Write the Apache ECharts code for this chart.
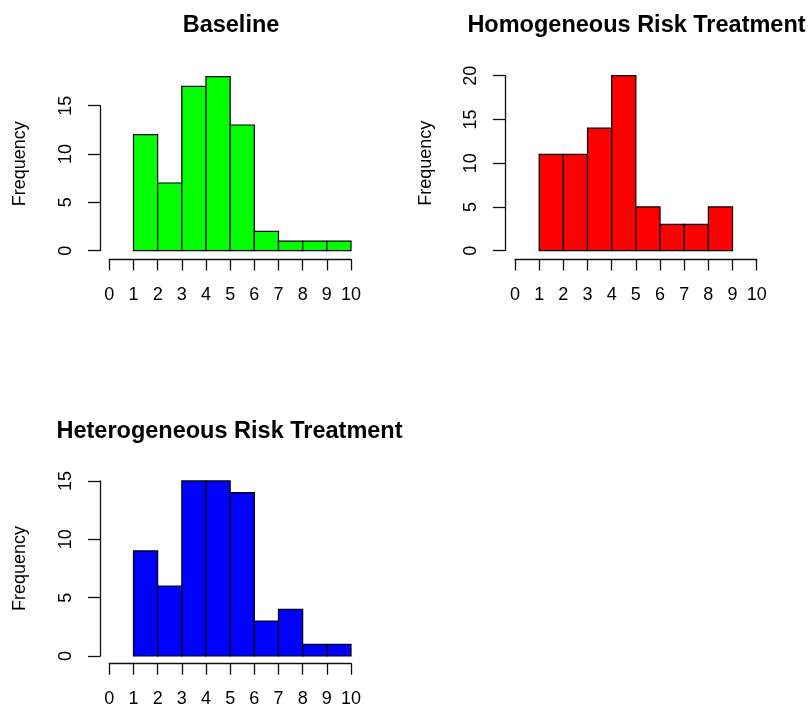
<!DOCTYPE html>
<html><head><meta charset="utf-8">
<script src="https://cdn.jsdelivr.net/npm/echarts@6/dist/echarts.min.js"></script>
<style>html,body{margin:0;padding:0;background:#fff}#c{width:809px;height:708px}</style>
</head><body><div id="c"></div>
<script>
// ---- data ----
const titles = ['Baseline', 'Homogeneous Risk Treatment', 'Heterogeneous Risk Treatment'];
const binWidth = 1;
const baselineStarts = [1, 2, 3, 4, 5, 6, 7, 8, 9];
const baselineCounts = [12, 7, 17, 18, 13, 2, 1, 1, 1];
const homogeneousStarts = [1, 2, 3, 4, 5, 6, 7, 8];
const homogeneousCounts = [11, 11, 14, 20, 5, 3, 3, 5];
const heterogeneousStarts = [1, 2, 3, 4, 5, 6, 7, 8, 9];
const heterogeneousCounts = [9, 6, 15, 15, 14, 3, 4, 1, 1];
const xMin = 0, xMax = 10, xStep = 1;
const yStep = 5;
const yTickMax = [15, 20, 15];
const yName = 'Frequency';

// ---- layout / style ----
const FONT = "'Liberation Sans', Arial, sans-serif";
const panels = [
  {starts: baselineStarts, counts: baselineCounts, color: '#00ff00', x0: 109.3, xUnit: 24.17, yZero: 250.7, yUnit: 9.67, axisX: 100, axisY: 259, titleX: 226, titleY: 9},
  {starts: homogeneousStarts, counts: homogeneousCounts, color: '#ff0000', x0: 515, xUnit: 24.17, yZero: 250.7, yUnit: 8.75, axisX: 505, axisY: 259, titleX: 631.5, titleY: 9},
  {starts: heterogeneousStarts, counts: heterogeneousCounts, color: '#0000ff', x0: 109.3, xUnit: 24.17, yZero: 656, yUnit: 11.67, axisX: 100, axisY: 663.3, titleX: 224.5, titleY: 415}
];

const grid = [], xAxis = [], yAxis = [], series = [], title = [];
const AX = '#111';
panels.forEach((p, i) => {
  const dataMax = Math.max(yTickMax[i], ...p.counts);
  const gA = grid.length;
  grid.push({left: p.x0, width: (xMax - xMin) * p.xUnit, top: p.yZero - dataMax * p.yUnit, height: dataMax * p.yUnit, outerBoundsMode: 'none', containLabel: false});
  xAxis.push({gridIndex: gA, type: 'value', min: xMin, max: xMax, interval: xStep, offset: p.axisY - p.yZero,
    axisLine: {show: true, onZero: false, lineStyle: {color: AX, width: 1.3}},
    axisTick: {show: true, length: 11.5, lineStyle: {color: AX, width: 1.3}},
    axisLabel: {show: true, fontFamily: FONT, fontSize: 18, color: '#000', margin: 27, showMinLabel: true, showMaxLabel: true, hideOverlap: false},
    splitLine: {show: false}});
  yAxis.push({gridIndex: gA, type: 'value', min: 0, max: dataMax, name: yName, nameLocation: 'middle', nameRotate: 90, nameGap: 80,
    nameTextStyle: {fontFamily: FONT, fontSize: 18, color: '#000'},
    axisLine: {show: false, onZero: false}, axisTick: {show: false}, axisLabel: {show: false}, splitLine: {show: false}});
  const gB = grid.length;
  grid.push({left: p.axisX, width: 1, top: p.yZero - yTickMax[i] * p.yUnit, height: yTickMax[i] * p.yUnit, outerBoundsMode: 'none', containLabel: false});
  xAxis.push({gridIndex: gB, type: 'value', show: false, min: 0, max: 1});
  yAxis.push({gridIndex: gB, type: 'value', min: 0, max: yTickMax[i], interval: yStep,
    axisLine: {show: true, onZero: false, lineStyle: {color: AX, width: 1.3}},
    axisTick: {show: true, length: 12, lineStyle: {color: AX, width: 1.3}},
    axisLabel: {show: true, rotate: 90, fontFamily: FONT, fontSize: 18, color: '#000', margin: 25, showMinLabel: true, showMaxLabel: true, hideOverlap: false},
    splitLine: {show: false}});
  const data = p.starts.map((s, k) => [s, s + binWidth, p.counts[k]]);
  series.push({type: 'custom', xAxisIndex: gA, yAxisIndex: gA, data,
    renderItem: (params, api) => {
      const a = api.coord([api.value(0), api.value(2)]);
      const b = api.coord([api.value(1), 0]);
      return {type: 'rect', shape: {x: a[0], y: a[1], width: b[0] - a[0], height: b[1] - a[1]},
        style: {fill: p.color, stroke: '#000', lineWidth: 1.2}};
    }});
  title.push({text: titles[i], left: p.titleX, top: p.titleY, textAlign: 'center',
    textStyle: {fontFamily: FONT, fontSize: 23.5, fontWeight: 'bold', color: '#000'}});
});

const chart = echarts.init(document.getElementById('c'), null, {renderer: 'canvas'});
chart.setOption({animation: false, backgroundColor: '#fff', title, grid, xAxis, yAxis, series});
</script></body></html>
